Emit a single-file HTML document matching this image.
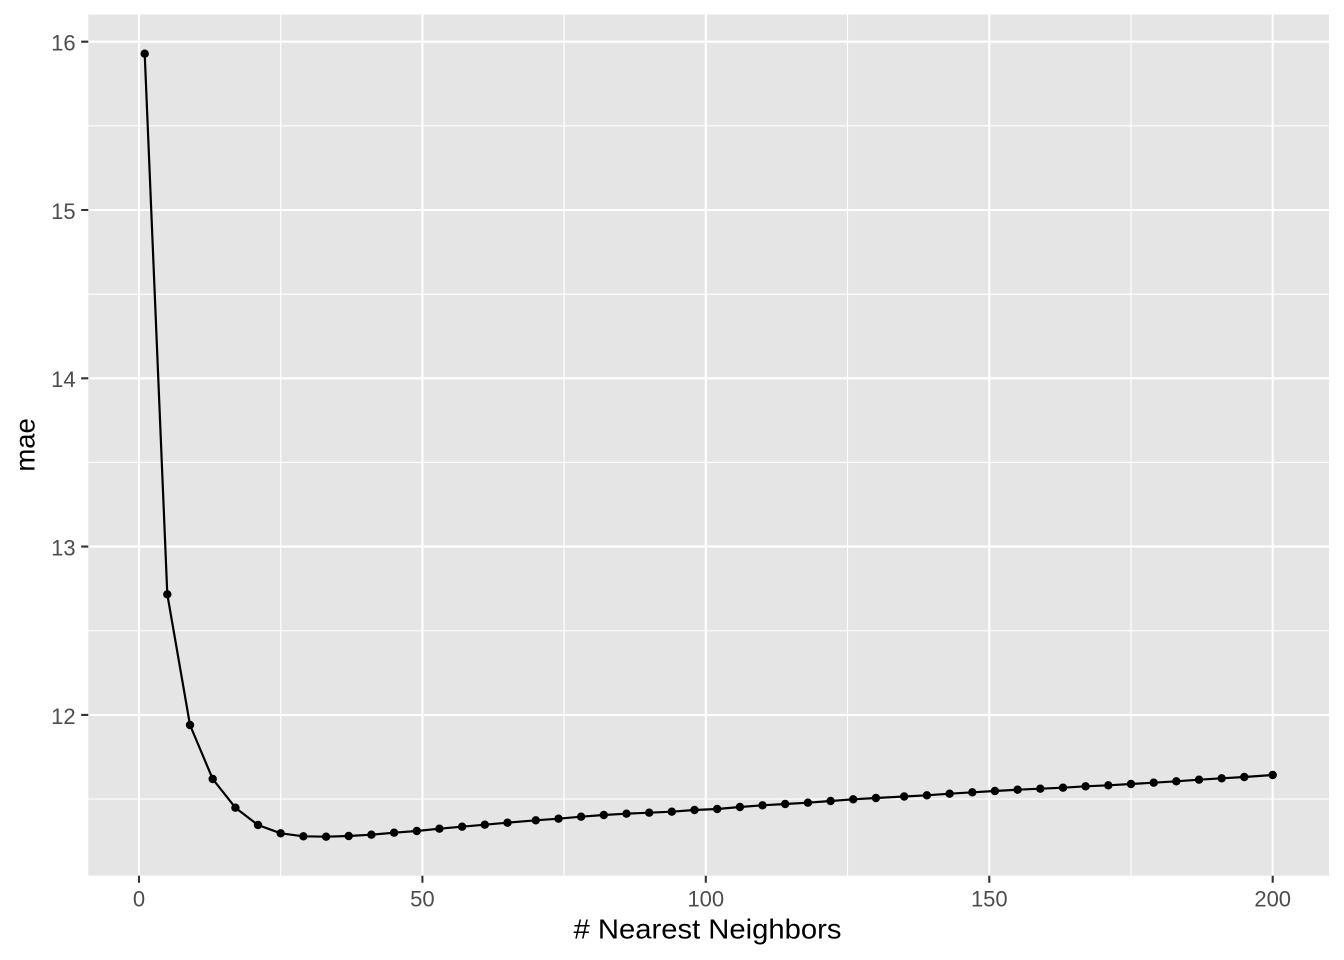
<!DOCTYPE html>
<html>
<head>
<meta charset="utf-8">
<style>
  html, body { margin: 0; padding: 0; background: #ffffff; }
  svg { display: block; }
  text { font-family: "Liberation Sans", Arial, Helvetica, sans-serif; }
</style>
</head>
<body>
<svg width="1344" height="960" viewBox="0 0 1344 960" xmlns="http://www.w3.org/2000/svg">
  <defs>
    <marker id="dot" markerUnits="userSpaceOnUse" markerWidth="10" markerHeight="10" refX="5" refY="5" overflow="visible">
      <circle cx="5" cy="5" r="4.2" fill="#000000"/>
    </marker>
  </defs>
  <rect x="0" y="0" width="1344" height="960" fill="#ffffff"/>
  <rect x="88.3" y="14.6" width="1240.7" height="861.1" fill="#E5E5E5"/>
  <path stroke="#ffffff" stroke-width="1.1" fill="none"
    d="M88.3 799.05H1329 M88.3 630.75H1329 M88.3 462.45H1329 M88.3 294.15H1329 M88.3 125.85H1329 M280.7 14.6V875.7 M564.1 14.6V875.7 M847.5 14.6V875.7 M1131 14.6V875.7"/>
  <path stroke="#ffffff" stroke-width="2.1" fill="none"
    d="M88.3 714.9H1329 M88.3 546.6H1329 M88.3 378.3H1329 M88.3 210H1329 M88.3 41.7H1329 M139 14.6V875.7 M422.4 14.6V875.7 M705.8 14.6V875.7 M989.3 14.6V875.7 M1272.7 14.6V875.7"/>
  <path stroke="#333333" stroke-width="2.1" fill="none"
    d="M81.2 714.9H88.3 M81.2 546.6H88.3 M81.2 378.3H88.3 M81.2 210H88.3 M81.2 41.7H88.3 M139 875.7V882.8 M422.4 875.7V882.8 M705.8 875.7V882.8 M989.3 875.7V882.8 M1272.7 875.7V882.8"/>
  <g fill="#4D4D4D" font-size="22" text-anchor="end">
    <text x="75.6" y="723.8">12</text>
    <text x="75.6" y="555.5">13</text>
    <text x="75.6" y="387.2">14</text>
    <text x="75.6" y="218.9">15</text>
    <text x="75.6" y="50.6">16</text>
  </g>
  <g fill="#4D4D4D" font-size="22" text-anchor="middle">
    <text x="139" y="906.6">0</text>
    <text x="422.4" y="906.6">50</text>
    <text x="705.8" y="906.6">100</text>
    <text x="989.3" y="906.6">150</text>
    <text x="1272.7" y="906.6">200</text>
  </g>
  <text x="707.5" y="938.5" font-size="27.5" fill="#000000" text-anchor="middle" textLength="268" lengthAdjust="spacingAndGlyphs"># Nearest Neighbors</text>
  <text transform="translate(34.3,444.9) rotate(-90)" font-size="27.5" fill="#000000" text-anchor="middle">mae</text>
  <polyline fill="none" stroke="#000000" stroke-width="2.2" stroke-linejoin="round"
    marker-start="url(#dot)" marker-mid="url(#dot)" marker-end="url(#dot)"
    points="144.7,53.7 167.3,594.3 190.0,725.0 212.7,779.0 235.4,807.7 258.0,825.0 280.7,833.3 303.4,836.3 326.1,836.7 348.7,836.0 371.4,834.7 394.1,832.7 416.8,831.0 439.4,828.7 462.1,826.7 484.8,824.7 507.5,822.7 535.8,820.3 558.5,818.7 581.1,816.7 603.8,815.0 626.5,813.7 649.2,812.7 671.8,811.7 694.5,810.0 717.2,809.0 739.9,807.0 762.5,805.3 785.2,804.0 807.9,802.7 830.6,801.0 853.2,799.3 875.9,798.0 904.2,796.5 926.9,795.3 949.6,793.7 972.3,792.3 994.9,791.0 1017.6,789.7 1040.3,788.7 1063.0,787.7 1085.6,786.3 1108.3,785.3 1131.0,784.0 1153.7,782.7 1176.3,781.3 1199.0,779.7 1221.7,778.3 1244.3,777.0 1272.7,775.0"/>
</svg>
</body>
</html>
